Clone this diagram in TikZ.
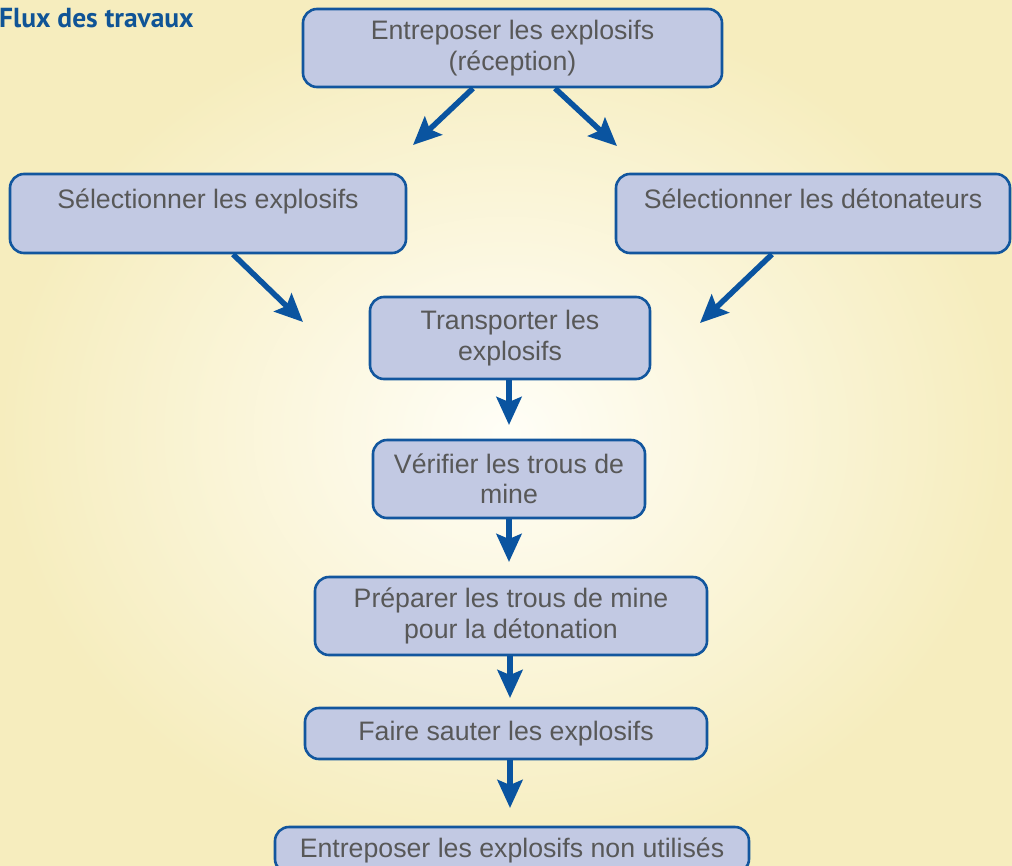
\documentclass[tikz,border=0pt]{standalone}
\usepackage{fontspec}
\setmainfont{Liberation Sans}
\newfontfamily\titlefont{PT Sans}
\usetikzlibrary{arrows.meta}
\definecolor{bgedge}{RGB}{246,237,190}
\definecolor{bgmid}{RGB}{255,254,247}
\definecolor{boxfill}{RGB}{194,201,227}
\definecolor{boxline}{RGB}{18,86,158}
\definecolor{flowblue}{RGB}{10,84,160}
\definecolor{boxtext}{RGB}{88,88,88}
\definecolor{titleblue}{RGB}{16,84,150}
\begin{document}
\begin{tikzpicture}[x=1pt,y=-1pt,
  stepbox/.style={draw=boxline, line width=2.6pt, fill=boxfill,
    rounded corners=14pt, inner sep=0pt, align=center, text=boxtext,
    font=\fontsize{26.7}{30.5}\selectfont},
  flow/.style={draw=flowblue, line width=5.5pt,
    -{Stealth[length=28pt,width=25pt,inset=5pt]}},
  heading/.style={anchor=base west, inner sep=0pt, text=titleblue,
    font=\titlefont\bfseries\fontsize{27.5}{27.5}\selectfont}]
% page frame and soft radial background
\clip (0,0) rectangle (1012,865);
\useasboundingbox (0,0) rectangle (1012,865);
\shade[inner color=bgmid, outer color=bgedge] (0,0) rectangle (1012,865);

\node[heading] (title) at (-1,27) {Flux des travaux};

% process steps
\node[stepbox, minimum width=419, minimum height=78] (recv) at (512.5,48)
  {Entreposer les explosifs\\(réception)};
\node[stepbox, minimum width=396, minimum height=79] (selexp) at (208,213.5)
  {Sélectionner les explosifs\\\mbox{}};
\node[stepbox, minimum width=394, minimum height=79] (seldet) at (813,213.5)
  {Sélectionner les détonateurs\\\mbox{}};
\node[stepbox, minimum width=280, minimum height=82] (transp) at (510,338)
  {Transporter les\\explosifs};
\node[stepbox, minimum width=272, minimum height=78] (verif) at (509,479)
  {Vérifier les trous de\\mine};
\node[stepbox, minimum width=392, minimum height=78] (prep) at (511,616)
  {Préparer les trous de mine\\pour la détonation};
\node[stepbox, minimum width=402, minimum height=51] (blast) at (506,733.5)
  {Faire sauter les explosifs};
\node[stepbox, minimum width=474, minimum height=46] (store) at (512,850)
  {Entreposer les explosifs non utilisés};

% arrow end points
\coordinate (tA) at (413,145);
\coordinate (tB) at (617,146);
\coordinate (tC) at (303,322);
\coordinate (tD) at (700,323);
\coordinate (tE) at (509,425);
\coordinate (tF) at (509,562);
\coordinate (tG) at (510,698);
\coordinate (tH) at (510,808);

% connectors
\draw[flow] ([xshift=-39.5pt]recv.south) -- (tA);
\draw[flow] ([xshift=42.5pt]recv.south) -- (tB);
\draw[flow] ([xshift=25pt]selexp.south) -- (tC);
\draw[flow] ([xshift=-41pt]seldet.south) -- (tD);
\draw[flow] (transp.south -| tE) -- (tE);
\draw[flow] (verif.south -| tF) -- (tF);
\draw[flow] (prep.south -| tG) -- (tG);
\draw[flow] (blast.south -| tH) -- (tH);
\end{tikzpicture}
\end{document}
